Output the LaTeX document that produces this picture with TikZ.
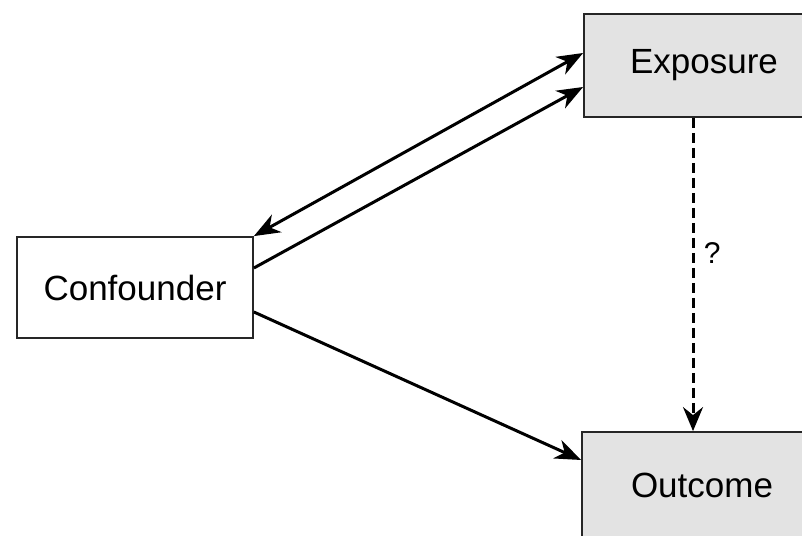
\documentclass[tikz,border=0pt]{standalone}
\usepackage{fontspec}
\setmainfont{Liberation Sans}
\usetikzlibrary{arrows.meta}
\begin{document}
\begin{tikzpicture}[x=1pt,y=1pt,
  varbox/.style={draw=black!85, line width=1.8pt, minimum width=240pt,
    minimum height=103pt, inner sep=0pt, font=\fontsize{35}{40}\selectfont},
  shaded/.style={varbox, fill=black!11},
  head/.tip={Stealth[length=26pt,width=20pt,inset=8pt]},
  link/.style={line width=3pt, -head},
  duallink/.style={line width=3pt, head-head},
  maybe/.style={line width=3pt, dash pattern=on 10pt off 5pt,
    -{Stealth[length=24pt,width=20pt,inset=8pt]}}]
  \useasboundingbox (0,0) rectangle (802,535);
  % variables
  \node[shaded] (exp) at (704,469.5) {Exposure};
  \node[varbox, fill=white, minimum width=236pt, minimum height=101pt] (conf) at (135,247.5) {Confounder};
  \node[shaded, minimum height=106pt] (out) at (702,50) {Outcome};
  % relations
  \draw[duallink] (conf.north east) -- ([yshift=12.5pt]exp.west);
  \draw[link] ([yshift=19.5pt]conf.east) -- ([yshift=-21.5pt]exp.west);
  \draw[link] ([yshift=-24.5pt]conf.east) -- ([yshift=25pt]out.west);
  \draw[maybe] ([xshift=-11pt]exp.south) -- ([xshift=-9pt]out.north)
    node[pos=0.43, right=6pt, font=\fontsize{30}{34}\selectfont] (q) {?};
\end{tikzpicture}
\end{document}
